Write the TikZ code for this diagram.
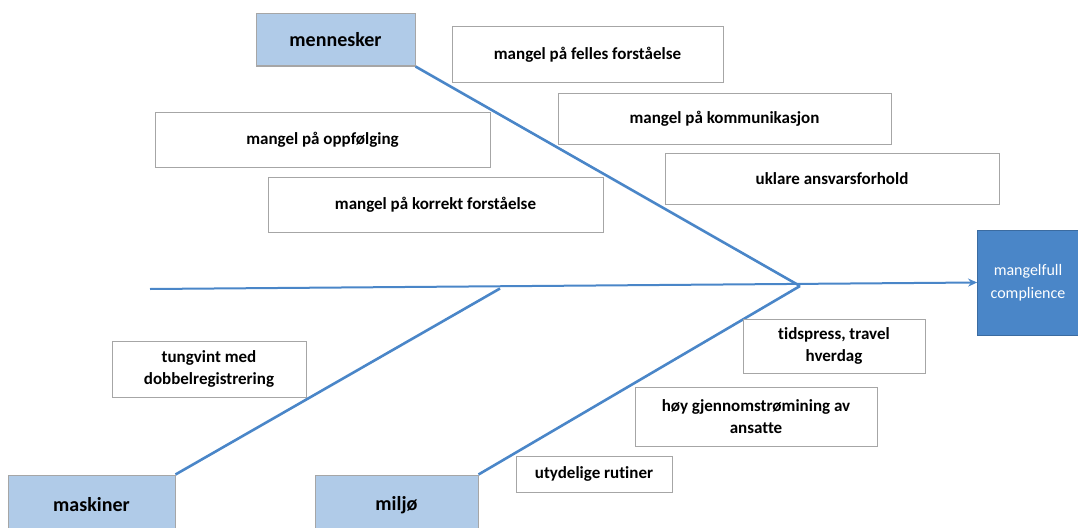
\documentclass[tikz,border=0pt]{standalone}
\usepackage{fontspec}
\setmainfont[Ligatures=NoCommon]{Carlito}
\usetikzlibrary{arrows.meta}
\definecolor{bone}{HTML}{4A86C8}
\definecolor{catfill}{HTML}{B0CBE8}
\definecolor{headfill}{HTML}{4A86C8}
\definecolor{edge}{HTML}{A6A6A6}
\begin{document}
\begin{tikzpicture}[x=1pt,y=-1pt,
  txt/.style={font=\fontsize{17}{22}\selectfont\bfseries, align=center, inner sep=0pt},
  cause/.style={txt, draw=edge, line width=1pt, fill=white},
  cat/.style={txt, font=\fontsize{20}{24}\selectfont\bfseries, draw=edge, line width=1pt, fill=catfill},
  head/.style={fill=headfill, draw=headfill!80!black, line width=0.8pt, text=white, align=center,
     font=\fontsize{16}{23}\selectfont, inner sep=0pt},
  bone/.style={draw=bone, line width=2.6pt}
]
\useasboundingbox (0,0) rectangle (1078,527);
\clip (0,0) rectangle (1078,527);

% category boxes
\node[cat, minimum width=159pt, minimum height=52pt] (menn) at (335.5,40) {mennesker};
\node[cat, minimum width=167pt, minimum height=60pt] (mask) at (91.5,505) {maskiner};
\node[cat, minimum width=163pt, minimum height=60pt] (milj) at (396.5,505) {miljø};

% head
\node[head, minimum width=101pt, minimum height=105pt] (head) at (1028,282.5) {mangelfull\\complience};

% junctions
\coordinate (tail) at (150,289);
\coordinate (j1) at (800,286);
\coordinate (j2) at (500,288.5);

% bones
\draw[bone] (menn.south east) -- (j1);
\draw[bone] (milj.north east) -- (j1);
\draw[bone] (mask.north east) -- (j2);
\draw[draw=bone, line width=2pt, -{Stealth[length=9pt,width=8pt]}] (tail) -- (head.west);

% causes
\node[cause, minimum width=271pt, minimum height=55pt] (c1) at (587.5,54.5) {mangel på felles forståelse};
\node[cause, minimum width=333pt, minimum height=51pt] (c2) at (724.5,118.5) {mangel på kommunikasjon};
\node[cause, minimum width=334pt, minimum height=51pt] (c3) at (832,178.5) {uklare ansvarsforhold};
\node[cause, minimum width=335pt, minimum height=55pt] (c4) at (322.5,139.5) {mangel på oppfølging};
\node[cause, minimum width=335pt, minimum height=55pt] (c5) at (435.5,204.5) {mangel på korrekt forståelse};
\node[cause, minimum width=194pt, minimum height=56pt] (c6) at (209,369) {tungvint med\\dobbelregistrering};
\node[cause, minimum width=182pt, minimum height=54pt] (c7) at (834,346) {tidspress, travel\\hverdag};
\node[cause, minimum width=242pt, minimum height=59pt] (c8) at (756,416.5) {høy gjennomstrømining av\\ansatte};
\node[cause, minimum width=156pt, minimum height=36pt] (c9) at (594,474) {utydelige rutiner};
\end{tikzpicture}
\end{document}
